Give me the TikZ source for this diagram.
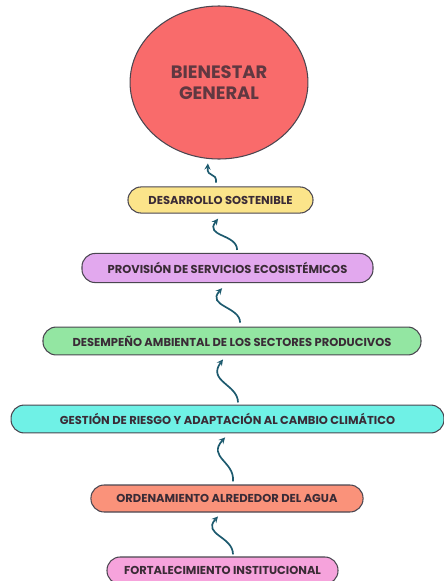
\documentclass[tikz,border=0pt]{standalone}
\usepackage{fontspec}
\setmainfont{Poppins}
\usetikzlibrary{shapes.geometric}
\definecolor{rojo}{HTML}{F96B6B}
\definecolor{amarillo}{HTML}{FBE48A}
\definecolor{lila}{HTML}{E2A8EE}
\definecolor{verde}{HTML}{93E6A2}
\definecolor{turquesa}{HTML}{6FF1E6}
\definecolor{salmon}{HTML}{FA927A}
\definecolor{rosa}{HTML}{F6A3DC}
\definecolor{borde}{HTML}{4A4650}
\definecolor{texto}{HTML}{3A2B36}
\definecolor{flecha}{HTML}{1D5A6E}
\tikzset{
  meta/.style={ellipse,draw=borde,line width=1pt,fill=rojo,minimum width=5.93cm,minimum height=5.1cm,
    align=center,text=texto!80!rojo,font=\bfseries\fontsize{17}{20}\selectfont},
  etapa/.style={rectangle,rounded corners=0.44cm,draw=borde,line width=1pt,minimum height=0.93cm,
    text=texto,font=\bfseries\fontsize{10.9}{12}\selectfont},
  flujo/.style={->,>=stealth,line width=1.6pt,draw=flecha}
}
\begin{document}
\begin{tikzpicture}[x=1cm/30,y=-1cm/30]
    \useasboundingbox (0,0) rectangle (443,581);
    \node[meta](bienestar) at (219,82.5){BIENESTAR\\GENERAL};%meta final
    \node[etapa,fill=amarillo,minimum width=6.17cm,minimum height=0.87cm](desarrollo) at (220.5,200){DESARROLLO SOSTENIBLE};
    \node[etapa,fill=lila,minimum width=9.7cm,minimum height=0.97cm](provision) at (227.5,268){PROVISIÓN DE SERVICIOS ECOSISTÉMICOS};
    \node[etapa,fill=verde,minimum width=12.6cm](desempeno) at (232,341){DESEMPEÑO AMBIENTAL DE LOS SECTORES PRODUCIVOS};
    \node[etapa,fill=turquesa,minimum width=14.43cm](gestion) at (227.5,419){GESTIÓN DE RIESGO Y ADAPTACIÓN AL CAMBIO CLIMÁTICO};
    \node[etapa,fill=salmon,minimum width=9.07cm,minimum height=0.9cm](ordenamiento) at (227,498.5){ORDENAMIENTO ALREDEDOR DEL AGUA};
    \node[etapa,fill=rosa,minimum width=7.7cm,minimum height=0.9cm](fortalecimiento) at (222.5,570.5){FORTALECIMIENTO INSTITUCIONAL};
    %flechas onduladas
    \draw[flujo]([xshift=-0.15cm,yshift=0.13cm]desarrollo.north) .. controls +(1,-11) and +(-1,15) .. ([xshift=-0.37cm,yshift=-0.13cm]bienestar.south);
    \draw[flujo]([xshift=0.32cm,yshift=0.1cm]provision.north) .. controls +(0,-16) and +(-14,18) .. ([xshift=-0.08cm,yshift=-0.17cm]desarrollo.south);
    \draw[flujo]([xshift=0.27cm,yshift=0.13cm]desempeno.north) .. controls +(0,-16) and +(-16,18) .. ([xshift=-0.18cm,yshift=-0.17cm]provision.south);
    \draw[flujo]([xshift=0.35cm,yshift=0.07cm]gestion.north) .. controls +(0,-18) and +(-16,22) .. ([xshift=-0.3cm,yshift=-0.13cm]desempeno.south);
    \draw[flujo]([xshift=0.2cm,yshift=0.1cm]ordenamiento.north) .. controls +(2,-20) and +(-18,20) .. ([xshift=-0.08cm,yshift=-0.13cm]gestion.south);
    \draw[flujo]([xshift=0.35cm,yshift=0.07cm]fortalecimiento.north) .. controls +(0,-18) and +(-16,18) .. ([xshift=-0.3cm,yshift=-0.13cm]ordenamiento.south);
\end{tikzpicture}
\end{document}
